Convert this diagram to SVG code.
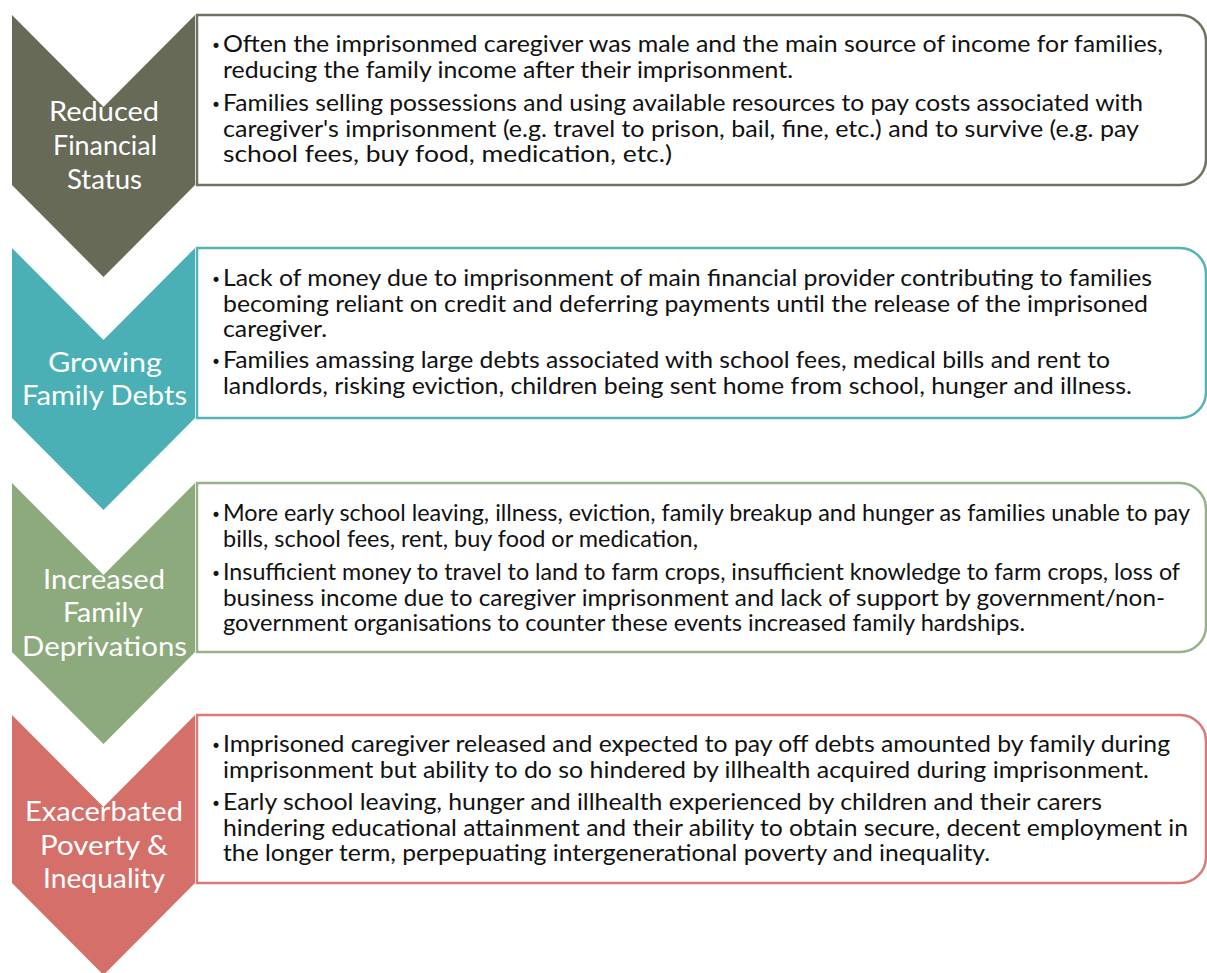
<svg xmlns="http://www.w3.org/2000/svg" width="1207" height="973" viewBox="0 0 1207 973">
<style>
.lbl{font-family:Lato,"Open Sans","Liberation Sans",sans-serif;font-size:27px;fill:#ffffff;text-anchor:middle}
.txt{font-family:Lato,"Open Sans","Liberation Sans",sans-serif;font-size:23px;fill:#111111}
.bul{font-family:"DejaVu Sans","Liberation Sans",sans-serif;font-size:17px;fill:#111111}
.box{fill:#ffffff;stroke-width:2.5}
</style>
<rect width="1207" height="973" fill="#ffffff"/>
<g id="connectors"></g>
<g id="node1">
<path class="box" stroke="#6f725f" d="M197,15 H1180 A26,26 0 0 1 1206,41 V159 A26,26 0 0 1 1180,185 H197 Z"/>
<path fill="#666a57" d="M12,15 L103.5,107 L195,15 L195,185 L103.5,277 L12,185 Z"/>
<text class="lbl"><tspan x="104" y="121" textLength="110" lengthAdjust="spacingAndGlyphs">Reduced</tspan><tspan x="105" y="155" textLength="104" lengthAdjust="spacingAndGlyphs">Financial</tspan><tspan x="104.5" y="189" textLength="75" lengthAdjust="spacingAndGlyphs">Status</tspan></text>
<text class="bul"><tspan x="211" y="52">•</tspan><tspan x="211" y="111">•</tspan></text>
<text class="txt"><tspan x="223" y="52" textLength="940" lengthAdjust="spacingAndGlyphs">Often the imprisonmed caregiver was male and the main source of income for families,</tspan><tspan x="223" y="78" textLength="570" lengthAdjust="spacingAndGlyphs">reducing the family income after their imprisonment.</tspan><tspan x="223" y="111" textLength="920" lengthAdjust="spacingAndGlyphs">Families selling possessions and using available resources to pay costs associated with</tspan><tspan x="223" y="136.5" textLength="916" lengthAdjust="spacingAndGlyphs">caregiver's imprisonment (e.g. travel to prison, bail, fine, etc.) and to survive (e.g. pay</tspan><tspan x="223" y="162" textLength="449" lengthAdjust="spacingAndGlyphs">school fees, buy food, medication, etc.)</tspan></text>
</g>
<g id="node2">
<path class="box" stroke="#52b4b8" d="M197,248 H1180 A26,26 0 0 1 1206,274 V392 A26,26 0 0 1 1180,418 H197 Z"/>
<path fill="#4ab0b5" d="M12,248 L103.5,340 L195,248 L195,418 L103.5,510 L12,418 Z"/>
<text class="lbl"><tspan x="105" y="372" textLength="114" lengthAdjust="spacingAndGlyphs">Growing</tspan><tspan x="104.5" y="405" textLength="165" lengthAdjust="spacingAndGlyphs">Family Debts</tspan></text>
<text class="bul"><tspan x="211" y="286">•</tspan><tspan x="211" y="368">•</tspan></text>
<text class="txt"><tspan x="223" y="286" textLength="929" lengthAdjust="spacingAndGlyphs">Lack of money due to imprisonment of main financial provider contributing to families</tspan><tspan x="223" y="311.5" textLength="925" lengthAdjust="spacingAndGlyphs">becoming reliant on credit and deferring payments until the release of the imprisoned</tspan><tspan x="223" y="337" textLength="104" lengthAdjust="spacingAndGlyphs">caregiver.</tspan><tspan x="223" y="368" textLength="887" lengthAdjust="spacingAndGlyphs">Families amassing large debts associated with school fees, medical bills and rent to</tspan><tspan x="223" y="393.5" textLength="909" lengthAdjust="spacingAndGlyphs">landlords, risking eviction, children being sent home from school, hunger and illness.</tspan></text>
</g>
<g id="node3">
<path class="box" stroke="#96b287" d="M197,483 H1180 A26,26 0 0 1 1206,509 V626 A26,26 0 0 1 1180,652 H197 Z"/>
<path fill="#8daa7d" d="M12,483 L103.5,575 L195,483 L195,652 L103.5,744 L12,652 Z"/>
<text class="lbl"><tspan x="104" y="588.5" textLength="122" lengthAdjust="spacingAndGlyphs">Increased</tspan><tspan x="103" y="622" textLength="80" lengthAdjust="spacingAndGlyphs">Family</tspan><tspan x="104.5" y="655.5" textLength="165" lengthAdjust="spacingAndGlyphs">Deprivations</tspan></text>
<text class="bul"><tspan x="211" y="521">•</tspan><tspan x="211" y="580">•</tspan></text>
<text class="txt"><tspan x="223" y="521" textLength="967" lengthAdjust="spacingAndGlyphs">More early school leaving, illness, eviction, family breakup and hunger as families unable to pay</tspan><tspan x="223" y="547" textLength="475" lengthAdjust="spacingAndGlyphs">bills, school fees, rent, buy food or medication,</tspan><tspan x="223" y="580" textLength="957" lengthAdjust="spacingAndGlyphs">Insufficient money to travel to land to farm crops, insufficient knowledge to farm crops, loss of</tspan><tspan x="223" y="605.5" textLength="942" lengthAdjust="spacingAndGlyphs">business income due to caregiver imprisonment and lack of support by government/non-</tspan><tspan x="223" y="631" textLength="802" lengthAdjust="spacingAndGlyphs">government organisations to counter these events increased family hardships.</tspan></text>
</g>
<g id="node4">
<path class="box" stroke="#d87a75" d="M197,715 H1180 A26,26 0 0 1 1206,741 V857 A26,26 0 0 1 1180,883 H197 Z"/>
<path fill="#d46f69" d="M12,715 L103.5,807 L195,715 L195,883 L103.5,975 L12,883 Z"/>
<text class="lbl"><tspan x="104" y="821" textLength="158" lengthAdjust="spacingAndGlyphs">Exacerbated</tspan><tspan x="104" y="855" textLength="128" lengthAdjust="spacingAndGlyphs">Poverty &amp;</tspan><tspan x="104" y="888" textLength="122" lengthAdjust="spacingAndGlyphs">Inequality</tspan></text>
<text class="bul"><tspan x="211" y="752">•</tspan><tspan x="211" y="810">•</tspan></text>
<text class="txt"><tspan x="223" y="752" textLength="947" lengthAdjust="spacingAndGlyphs">Imprisoned caregiver released and expected to pay off debts amounted by family during</tspan><tspan x="223" y="778" textLength="926" lengthAdjust="spacingAndGlyphs">imprisonment but ability to do so hindered by illhealth acquired during imprisonment.</tspan><tspan x="223" y="810" textLength="879" lengthAdjust="spacingAndGlyphs">Early school leaving, hunger and illhealth experienced by children and their carers</tspan><tspan x="223" y="835.5" textLength="965" lengthAdjust="spacingAndGlyphs">hindering educational attainment and their ability to obtain secure, decent employment in</tspan><tspan x="223" y="861" textLength="767" lengthAdjust="spacingAndGlyphs">the longer term, perpepuating intergenerational poverty and inequality.</tspan></text>
</g>
</svg>
